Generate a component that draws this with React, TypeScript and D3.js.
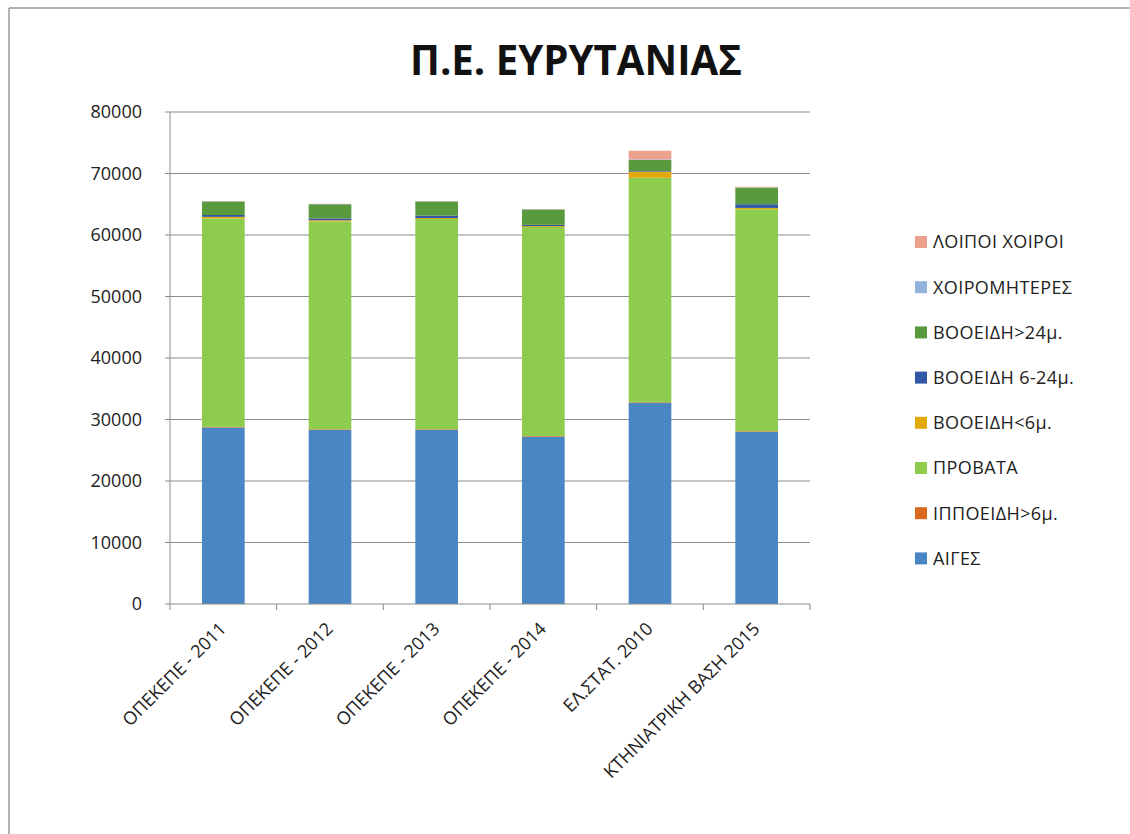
import * as d3 from 'd3'
import React from 'react'

const categories = [
  'ΟΠΕΚΕΠΕ - 2011',
  'ΟΠΕΚΕΠΕ - 2012',
  'ΟΠΕΚΕΠΕ - 2013',
  'ΟΠΕΚΕΠΕ - 2014',
  'ΕΛ.ΣΤΑΤ. 2010',
  'ΚΤΗΝΙΑΤΡΙΚΗ ΒΑΣΗ 2015',
]

// series, bottom to top
const seriesNames = [
  'ΑΙΓΕΣ',
  'ΙΠΠΟΕΙΔΗ>6μ.',
  'ΠΡΟΒΑΤΑ',
  'ΒΟΟΕΙΔΗ<6μ.',
  'ΒΟΟΕΙΔΗ 6-24μ.',
  'ΒΟΟΕΙΔΗ>24μ.',
  'ΧΟΙΡΟΜΗΤΕΡΕΣ',
  'ΛΟΙΠΟΙ ΧΟΙΡΟΙ',
]
const seriesColors = ['#4a86c4', '#d9691f', '#8dcc4c', '#e3a90c', '#3157a6', '#5a9a3f', '#93b3dc', '#eca18d']

const aiges = [28700, 28300, 28300, 27200, 32700, 28000]
const ippoeidi = [100, 100, 100, 100, 100, 100]
const provata = [33900, 33800, 34200, 34000, 36500, 36100]
const vooeidiLt6 = [250, 200, 150, 150, 1000, 200]
const vooeidi6to24 = [300, 300, 400, 200, 100, 600]
const vooeidiGt24 = [2200, 2300, 2300, 2500, 1800, 2700]
const xoiromitiers = [30, 30, 30, 30, 100, 50]
const loipoiXoiroi = [40, 40, 40, 40, 1400, 100]

const seriesValues = [aiges, ippoeidi, provata, vooeidiLt6, vooeidi6to24, vooeidiGt24, xoiromitiers, loipoiXoiroi]
const yTicks = [0, 10000, 20000, 30000, 40000, 50000, 60000, 70000, 80000]

const W = 1130
const H = 834
const plot = { left: 170, right: 810, top: 112, bottom: 604 }
const font = '"Open Sans", sans-serif'

export default function App() {
  const x = d3.scaleBand<string>().domain(categories).range([plot.left, plot.right]).paddingInner(0.6).paddingOuter(0.3)
  const y = d3.scaleLinear().domain([0, 80000]).range([plot.bottom, plot.top])

  const rows = categories.map((c, i) => {
    const r: Record<string, number | string> = { cat: c }
    seriesNames.forEach((s, k) => (r[s] = seriesValues[k][i]))
    return r
  })
  const stacked = d3.stack<Record<string, number | string>>().keys(seriesNames)(rows)
  const step = (plot.right - plot.left) / categories.length

  return (
    <svg width={W} height={H} style={{ position: 'absolute', left: 0, top: 0, background: '#fff' }} fontFamily={font}>
      {/* chart frame: only left and top edges show */}
      <line x1={9} x2={W} y1={8} y2={8} stroke="#9a9a9a" strokeWidth={1.5} />
      <line x1={9} x2={9} y1={8} y2={H} stroke="#9a9a9a" strokeWidth={1.5} />

      <text x={576} y={75} textAnchor="middle" fontSize={41} fontWeight="bold" fill="#111" textLength={332} lengthAdjust="spacingAndGlyphs">
        Π.Ε. ΕΥΡΥΤΑΝΙΑΣ
      </text>

      {/* gridlines + y axis */}
      {yTicks.map(t => (
        <g key={t}>
          {t > 0 && <line x1={plot.left} x2={plot.right} y1={y(t)} y2={y(t)} stroke="#8c8c8c" />}
          <line x1={plot.left - 5} x2={plot.left} y1={y(t)} y2={y(t)} stroke="#8c8c8c" />
          <text x={142} y={y(t)} dy="0.36em" textAnchor="end" fontSize={18} fill="#222">
            {t}
          </text>
        </g>
      ))}
      <line x1={plot.left} x2={plot.left} y1={plot.top} y2={plot.bottom} stroke="#8c8c8c" />

      {/* bars */}
      {stacked.map((layer, k) => (
        <g key={layer.key} fill={seriesColors[k]}>
          {layer.map((d, i) => (
            <rect
              key={i}
              x={x(categories[i])}
              width={x.bandwidth()}
              y={y(d[1])}
              height={Math.max(0, y(d[0]) - y(d[1]))}
            />
          ))}
        </g>
      ))}

      {/* x axis */}
      <line x1={plot.left} x2={plot.right} y1={plot.bottom} y2={plot.bottom} stroke="#8c8c8c" />
      {d3.range(categories.length + 1).map(i => (
        <line
          key={i}
          x1={plot.left + i * step}
          x2={plot.left + i * step}
          y1={plot.bottom}
          y2={plot.bottom + 6}
          stroke="#8c8c8c"
        />
      ))}
      {categories.map(c => {
        const cx = (x(c) ?? 0) + x.bandwidth() / 2
        return (
          <text
            key={c}
            transform={`translate(${cx + 4},${plot.bottom + 26}) rotate(-45)`}
            textAnchor="end"
            fontSize={18}
            fill="#222"
          >
            {c}
          </text>
        )
      })}

      {/* legend, top item is last series */}
      {seriesNames
        .slice()
        .reverse()
        .map((s, i) => {
          const k = seriesNames.length - 1 - i
          const ly = 242 + i * 45.2
          return (
            <g key={s}>
              <rect x={915} y={ly - 6} width={12} height={12} fill={seriesColors[k]} />
              <text x={933} y={ly} dy="0.36em" fontSize={18} letterSpacing={0.4} fill="#222">
                {s}
              </text>
            </g>
          )
        })}
    </svg>
  )
}
